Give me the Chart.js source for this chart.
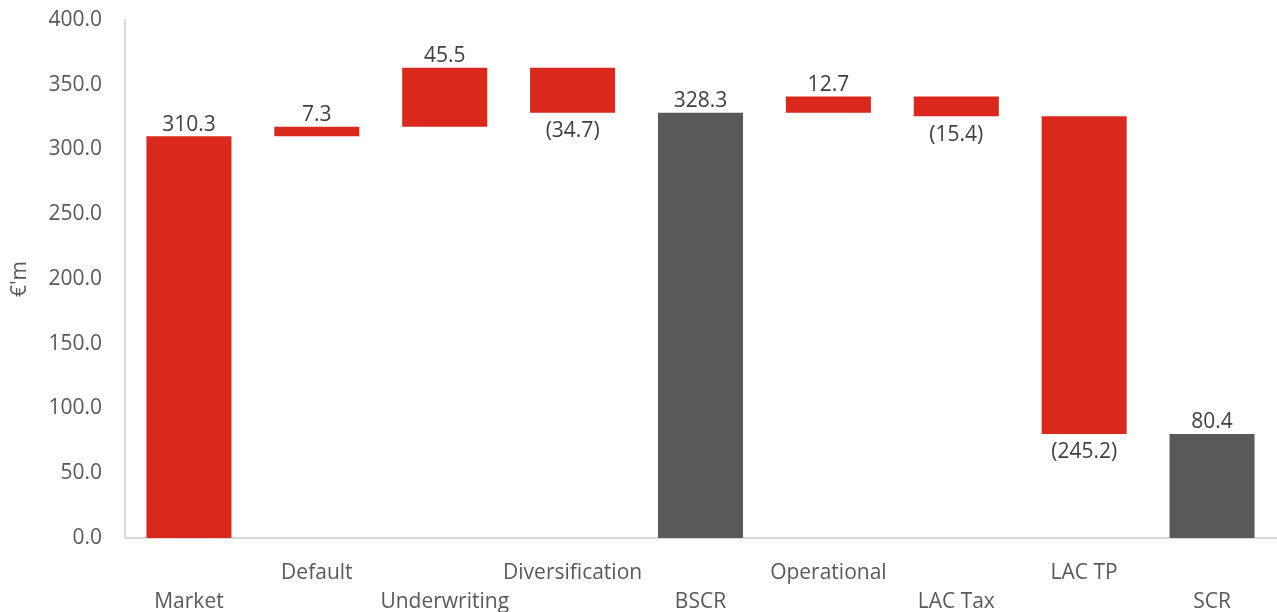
<!DOCTYPE html>
<html>
<head>
<meta charset="utf-8">
<script src="https://cdn.jsdelivr.net/npm/chart.js@4/dist/chart.umd.min.js"></script>
<style>
  html, body { margin: 0; padding: 0; background: #fff; }
  #wrap { width: 1277px; height: 612px; position: relative; }
</style>
</head>
<body>
<div id="wrap"><canvas id="c"></canvas></div>
<script>
// SCR build-up, €'m
const categories = ['Market', 'Default', 'Underwriting', 'Diversification', 'BSCR', 'Operational', 'LAC Tax', 'LAC TP', 'SCR'];
const movements  = [310.3, 7.3, 45.5, -34.7, 328.3, 12.7, -15.4, -245.2, 80.4];
const isTotal    = [false, false, false, false, true, false, false, false, true];
const yTicks     = [0, 50, 100, 150, 200, 250, 300, 350, 400];

const RED = '#da291c';
const GREY = '#595959';
const FONT = 'Open Sans';

// Floating [start, end] ranges for the waterfall; totals start from zero
const ranges = [];
let running = 0;
movements.forEach((v, i) => {
  if (isTotal[i]) {
    running = v;
    ranges.push([0, v]);
  } else {
    ranges.push([running, running + v]);
    running += v;
  }
});

// Value above rising/total bars, bracketed value below falling bars
const valueLabels = {
  id: 'valueLabels',
  afterDatasetsDraw(chart) {
    const ctx = chart.ctx;
    const meta = chart.getDatasetMeta(0);
    ctx.save();
    ctx.font = '21px "' + FONT + '"';
    ctx.fillStyle = '#404040';
    ctx.textAlign = 'center';
    meta.data.forEach((bar, i) => {
      const v = movements[i];
      const top = Math.min(bar.y, bar.base);
      const bottom = Math.max(bar.y, bar.base);
      if (v < 0) {
        ctx.textBaseline = 'top';
        ctx.fillText('(' + Math.abs(v).toFixed(1) + ')', bar.x, bottom + 8);
      } else {
        ctx.textBaseline = 'bottom';
        ctx.fillText(v.toFixed(1), bar.x, top - 1);
      }
    });
    ctx.restore();
  }
};

new Chart(document.getElementById('c'), {
  type: 'bar',
  data: {
    labels: categories,
    datasets: [{
      data: ranges,
      backgroundColor: isTotal.map(t => t ? GREY : RED),
      borderWidth: 0,
      categoryPercentage: 1,
      barPercentage: 0.665
    }]
  },
  options: {
    responsive: true,
    maintainAspectRatio: false,
    animation: false,
    layout: { padding: { top: 20, right: 1, left: 0, bottom: 0 } },
    plugins: {
      legend: { display: false },
      tooltip: { enabled: false }
    },
    scales: {
      x: {
        grid: { display: false },
        border: { display: true, color: '#d9d9d9', width: 2 },
        afterFit: (scale) => { scale.height = 74; },
        ticks: {
          color: GREY,
          font: { family: FONT, size: 21, lineHeight: 1.38 },
          padding: 13,
          maxRotation: 0,
          autoSkip: false,
          callback: (val, i) => i % 2 === 0 ? ['', categories[i]] : [categories[i], '']
        }
      },
      y: {
        min: 0,
        max: 400,
        afterBuildTicks: (scale) => { scale.ticks = yTicks.map(v => ({ value: v })); },
        afterFit: (scale) => {
          scale.width = 125;
          scale.paddingTop = 0;
          scale.paddingBottom = 0;
        },
        grid: { display: false },
        border: { display: true, color: '#d9d9d9', width: 2 },
        title: {
          display: true,
          text: "€'m",
          color: GREY,
          font: { family: FONT, size: 21 },
          padding: { top: 7, bottom: 0 }
        },
        ticks: {
          color: GREY,
          font: { family: FONT, size: 21 },
          padding: 15,
          callback: v => Number(v).toFixed(1)
        }
      }
    }
  },
  plugins: [valueLabels]
});
</script>
</body>
</html>
